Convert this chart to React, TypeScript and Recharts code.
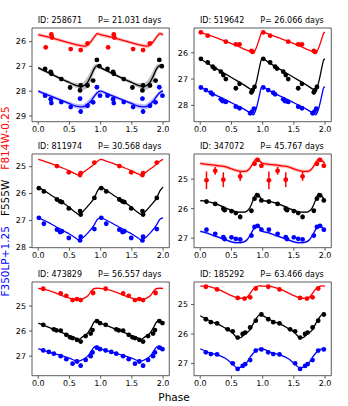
import {
  ComposedChart,
  Line,
  Area,
  Scatter,
  ErrorBar,
  XAxis,
  YAxis,
  ReferenceArea,
} from 'recharts'

const FONT = 'DejaVu Sans'
const RED = '#ff0000'
const BLACK = '#000000'
const BLUE = '#0000ff'

type Pt = [number, number, number] // phase, mag, error

const starIds = ['258671', '519642', '811974', '347072', '473829', '185292']
const periods = ['21.031', '26.066', '30.568', '45.767', '56.557', '63.466']
const yLims = [
  [25.45, 29.23],
  [25.06, 28.62],
  [24.53, 28.01],
  [24.15, 27.32],
  [24.04, 27.78],
  [24.24, 27.41],
]
const yTicks = [
  [26, 27, 28, 29],
  [26, 27, 28],
  [25, 26, 27, 28],
  [25, 26, 27],
  [25, 26, 27],
  [25, 26, 27],
]
const xTicks = [0, 0.5, 1, 1.5, 2]

// ---- 258671
const phase1 = [0, 0.1, 0.2, 0.3, 0.4, 0.5, 0.6, 0.7, 0.75, 0.8, 0.85, 0.9, 0.95]
const red1 = [25.72, 25.78, 25.84, 25.91, 25.98, 26.05, 26.12, 26.17, 26.18, 26.12, 25.98, 25.8, 25.68]
const black1 = [27.05, 27.18, 27.3, 27.42, 27.54, 27.65, 27.76, 27.8, 27.75, 27.6, 27.35, 27.08, 26.97]
const blue1 = [28.0, 28.1, 28.2, 28.3, 28.4, 28.5, 28.6, 28.63, 28.6, 28.5, 28.38, 28.2, 28.05]
const band1Red = [0.07, 0.07, 0.07, 0.07, 0.07, 0.07, 0.07, 0.08, 0.09, 0.1, 0.1, 0.09, 0.08]
const band1Black = [0.06, 0.06, 0.06, 0.06, 0.06, 0.07, 0.09, 0.14, 0.18, 0.22, 0.22, 0.15, 0.08]
const band1Blue = [0.07, 0.07, 0.07, 0.07, 0.07, 0.08, 0.09, 0.1, 0.12, 0.14, 0.14, 0.1, 0.08]
const red1Pts: Pt[] = [[0.12, 26.23, 0.08], [0.21, 25.71, 0.08], [0.22, 25.83, 0.08], [0.52, 26.3, 0.08], [0.68, 26.34, 0.08], [0.79, 26.07, 0.05]]
const black1Pts: Pt[] = [[0.11, 27.1, 0.05], [0.2, 27.22, 0.05], [0.21, 27.3, 0.06], [0.37, 27.51, 0.06], [0.51, 27.85, 0.08], [0.67, 27.97, 0.06], [0.68, 27.77, 0.08], [0.79, 27.77, 0.06], [0.88, 27.57, 0.06], [0.94, 26.74, 0.04], [0.98, 26.99, 0.05]]
const blue1Pts: Pt[] = [[0.11, 28.18, 0.05], [0.2, 28.32, 0.06], [0.21, 28.48, 0.06], [0.37, 28.44, 0.05], [0.52, 28.64, 0.06], [0.67, 28.3, 0.04], [0.68, 28.82, 0.1], [0.79, 28.59, 0.06], [0.88, 28.45, 0.06], [0.94, 27.84, 0.04], [0.99, 28.18, 0.05]]

// ---- 519642
const phase2 = [0, 0.1, 0.2, 0.3, 0.4, 0.5, 0.6, 0.7, 0.8, 0.85, 0.9, 0.95, 0.98]
const red2 = [25.22, 25.3, 25.38, 25.47, 25.56, 25.65, 25.75, 25.86, 25.96, 26.0, 25.8, 25.45, 25.25]
const black2 = [26.23, 26.38, 26.52, 26.66, 26.8, 26.94, 27.08, 27.22, 27.38, 27.45, 27.1, 26.55, 26.26]
const blue2 = [27.3, 27.43, 27.55, 27.67, 27.78, 27.9, 28.02, 28.14, 28.28, 28.36, 28.1, 27.6, 27.32]
const red2Pts: Pt[] = [[0.01, 25.23, 0.03], [0.12, 25.35, 0.03], [0.41, 25.58, 0.04], [0.57, 25.68, 0.04], [0.63, 25.68, 0.04], [0.82, 25.93, 0.04], [0.84, 25.97, 0.04]]
const black2Pts: Pt[] = [[0.01, 26.23, 0.03], [0.12, 26.37, 0.04], [0.2, 26.53, 0.05], [0.23, 26.6, 0.05], [0.33, 26.72, 0.05], [0.37, 26.85, 0.05], [0.41, 27.0, 0.05], [0.57, 27.35, 0.08], [0.63, 27.18, 0.05], [0.82, 27.5, 0.1], [0.84, 27.42, 0.08], [0.87, 27.3, 0.08]]
const blue2Pts: Pt[] = [[0.01, 27.32, 0.03], [0.09, 27.42, 0.03], [0.17, 27.52, 0.03], [0.2, 27.58, 0.04], [0.33, 27.77, 0.05], [0.36, 27.84, 0.05], [0.41, 27.87, 0.04], [0.57, 28.05, 0.04], [0.63, 28.11, 0.05], [0.8, 28.3, 0.05], [0.83, 28.24, 0.05], [0.86, 28.12, 0.06]]

// ---- 811974
const phase3 = [0, 0.1, 0.2, 0.3, 0.4, 0.5, 0.6, 0.65, 0.7, 0.8, 0.9, 0.95]
const red3 = [24.73, 24.8, 24.88, 24.97, 25.06, 25.16, 25.27, 25.32, 25.25, 25.08, 24.9, 24.8]
const black3 = [25.76, 25.9, 26.05, 26.2, 26.35, 26.52, 26.7, 26.78, 26.7, 26.45, 26.15, 25.9]
const blue3 = [26.9, 27.0, 27.12, 27.25, 27.38, 27.5, 27.65, 27.73, 27.67, 27.45, 27.15, 26.95]
const red3Pts: Pt[] = [[0.3, 24.98, 0.03], [0.49, 25.21, 0.03], [0.67, 25.31, 0.04], [0.68, 25.24, 0.03], [0.9, 24.85, 0.05]]
const black3Pts: Pt[] = [[0.01, 25.8, 0.03], [0.09, 25.92, 0.04], [0.3, 26.22, 0.04], [0.35, 26.29, 0.04], [0.38, 26.32, 0.04], [0.49, 26.55, 0.04], [0.67, 26.65, 0.05], [0.68, 26.78, 0.07], [0.9, 26.16, 0.05]]
const blue3Pts: Pt[] = [[0.01, 26.9, 0.03], [0.09, 27.12, 0.05], [0.3, 27.34, 0.05], [0.35, 27.43, 0.05], [0.38, 27.4, 0.05], [0.49, 27.65, 0.06], [0.67, 27.74, 0.06], [0.68, 27.6, 0.05], [0.9, 27.32, 0.05]]

// ---- 347072
const phase4 = [0, 0.1, 0.2, 0.3, 0.4, 0.5, 0.6, 0.7, 0.75, 0.8, 0.85, 0.9, 0.95]
const red4 = [24.47, 24.5, 24.52, 24.55, 24.58, 24.65, 24.72, 24.74, 24.72, 24.62, 24.44, 24.32, 24.38]
const black4 = [25.73, 25.75, 25.8, 25.88, 25.97, 26.05, 26.12, 26.12, 26.08, 25.95, 25.7, 25.48, 25.58]
const blue4 = [26.77, 26.82, 26.9, 26.97, 27.05, 27.12, 27.15, 27.12, 27.05, 26.9, 26.7, 26.57, 26.62]
const band4Red = [0.06, 0.06, 0.06, 0.06, 0.06, 0.06, 0.06, 0.06, 0.06, 0.06, 0.06, 0.06, 0.06]
const band4Black = [0.03, 0.03, 0.03, 0.03, 0.03, 0.03, 0.03, 0.03, 0.03, 0.03, 0.03, 0.03, 0.03]
const band4Blue = [0.04, 0.04, 0.04, 0.04, 0.04, 0.04, 0.04, 0.04, 0.04, 0.04, 0.04, 0.04, 0.04]
const red4Pts: Pt[] = [[0.1, 25.04, 0.3], [0.24, 24.72, 0.13], [0.37, 25.02, 0.25], [0.64, 24.91, 0.15], [0.87, 24.48, 0.06], [0.92, 24.35, 0.06], [0.98, 24.55, 0.06]]
const black4Pts: Pt[] = [[0.1, 25.76, 0.07], [0.24, 25.84, 0.05], [0.37, 26.0, 0.07], [0.39, 26.05, 0.05], [0.5, 26.08, 0.05], [0.57, 26.15, 0.05], [0.64, 26.28, 0.08], [0.82, 26.07, 0.05], [0.87, 25.66, 0.05], [0.92, 25.55, 0.05], [0.98, 25.72, 0.05]]
const blue4Pts: Pt[] = [[0.1, 26.71, 0.05], [0.24, 26.85, 0.03], [0.37, 26.96, 0.06], [0.39, 27.03, 0.05], [0.5, 26.97, 0.04], [0.57, 27.02, 0.04], [0.64, 27.04, 0.04], [0.82, 26.91, 0.08], [0.87, 26.62, 0.05], [0.92, 26.58, 0.05], [0.98, 26.71, 0.05]]

// ---- 473829
const phase5 = [0, 0.1, 0.2, 0.3, 0.4, 0.5, 0.6, 0.65, 0.7, 0.8, 0.85, 0.9, 0.95]
const red5 = [24.3, 24.33, 24.4, 24.5, 24.6, 24.68, 24.74, 24.76, 24.72, 24.58, 24.4, 24.3, 24.29]
const black5 = [25.68, 25.78, 25.88, 25.98, 26.08, 26.18, 26.28, 26.33, 26.25, 26.05, 25.85, 25.62, 25.58]
const blue5 = [26.7, 26.78, 26.86, 26.93, 27.0, 27.08, 27.18, 27.2, 27.15, 26.98, 26.8, 26.63, 26.6]
const red5Pts: Pt[] = [[0.08, 24.31, 0.04], [0.36, 24.5, 0.05], [0.45, 24.59, 0.05], [0.55, 24.76, 0.07], [0.62, 24.72, 0.07], [0.68, 24.76, 0.07], [0.88, 24.48, 0.04]]
const black5Pts: Pt[] = [[0.08, 25.75, 0.03], [0.25, 25.93, 0.04], [0.29, 25.97, 0.04], [0.36, 25.98, 0.05], [0.45, 26.15, 0.08], [0.51, 26.25, 0.05], [0.55, 26.28, 0.06], [0.62, 26.35, 0.07], [0.68, 26.42, 0.07], [0.76, 26.2, 0.05], [0.84, 26.1, 0.05], [0.87, 25.96, 0.05], [0.94, 25.6, 0.04], [0.99, 25.68, 0.04]]
const blue5Pts: Pt[] = [[0.08, 26.77, 0.04], [0.17, 26.83, 0.04], [0.25, 26.9, 0.04], [0.36, 27.0, 0.05], [0.45, 27.12, 0.06], [0.55, 27.3, 0.07], [0.62, 27.21, 0.09], [0.68, 27.38, 0.08], [0.76, 27.15, 0.06], [0.84, 27.0, 0.05], [0.87, 26.85, 0.05], [0.94, 26.66, 0.04], [0.99, 26.72, 0.04]]

// ---- 185292
const phase6 = [0, 0.1, 0.2, 0.3, 0.4, 0.5, 0.6, 0.65, 0.7, 0.75, 0.8, 0.85, 0.9, 0.95]
const red6 = [24.38, 24.38, 24.43, 24.5, 24.6, 24.7, 24.78, 24.79, 24.78, 24.75, 24.62, 24.48, 24.4, 24.37]
const black6 = [25.38, 25.5, 25.6, 25.68, 25.8, 25.93, 26.12, 26.12, 26.02, 25.95, 25.85, 25.65, 25.47, 25.35]
const blue6 = [26.5, 26.6, 26.66, 26.72, 26.82, 26.98, 27.15, 27.12, 27.05, 26.95, 26.78, 26.65, 26.55, 26.5]
const red6Pts: Pt[] = [[0.09, 24.4, 0.03], [0.27, 24.49, 0.03], [0.6, 24.78, 0.03], [0.71, 24.8, 0.03], [0.8, 24.76, 0.03], [0.89, 24.46, 0.03]]
const black6Pts: Pt[] = [[0.09, 25.5, 0.03], [0.17, 25.6, 0.03], [0.27, 25.64, 0.03], [0.44, 25.84, 0.03], [0.52, 25.91, 0.03], [0.6, 26.12, 0.04], [0.68, 26.0, 0.03], [0.72, 25.95, 0.03], [0.8, 25.78, 0.03], [0.89, 25.55, 0.03], [0.98, 25.34, 0.03]]
const blue6Pts: Pt[] = [[0.09, 26.62, 0.03], [0.17, 26.68, 0.03], [0.27, 26.69, 0.03], [0.52, 26.99, 0.03], [0.6, 27.18, 0.04], [0.68, 27.08, 0.03], [0.72, 27.02, 0.03], [0.8, 26.88, 0.03], [0.89, 26.56, 0.03], [0.98, 26.52, 0.03]]

type Bands = { red?: number[]; black?: number[]; blue?: number[] }

// two cycles of the template, closed at phase 2
function buildCurve(phase: number[], red: number[], black: number[], blue: number[], bands: Bands = {}) {
  const row = (x: number, i: number) => ({
    x,
    red: red[i],
    black: black[i],
    blue: blue[i],
    redBand: bands.red ? [red[i] - bands.red[i], red[i] + bands.red[i]] : undefined,
    blackBand: bands.black ? [black[i] - bands.black[i], black[i] + bands.black[i]] : undefined,
    blueBand: bands.blue ? [blue[i] - bands.blue[i], blue[i] + bands.blue[i]] : undefined,
  })
  const rows = []
  for (const k of [0, 1]) phase.forEach((p, i) => rows.push(row(p + k, i)))
  rows.push(row(2, 0))
  return rows
}

function buildPts(pts: Pt[]) {
  const out = []
  for (const k of [0, 1]) pts.forEach(([p, m, e]) => out.push({ x: p + k, y: m, e }))
  return out
}

const panels = [
  { curve: buildCurve(phase1, red1, black1, blue1, { red: band1Red, black: band1Black, blue: band1Blue }), pts: [red1Pts, black1Pts, blue1Pts] },
  { curve: buildCurve(phase2, red2, black2, blue2), pts: [red2Pts, black2Pts, blue2Pts] },
  { curve: buildCurve(phase3, red3, black3, blue3), pts: [red3Pts, black3Pts, blue3Pts] },
  { curve: buildCurve(phase4, red4, black4, blue4, { red: band4Red, black: band4Black, blue: band4Blue }), pts: [red4Pts, black4Pts, blue4Pts] },
  { curve: buildCurve(phase5, red5, black5, blue5), pts: [red5Pts, black5Pts, blue5Pts] },
  { curve: buildCurve(phase6, red6, black6, blue6), pts: [red6Pts, black6Pts, blue6Pts] },
]

const COLS = [31.5, 193.8]
const ROWS = [28.3, 154, 281.7]
const PW = 137.3
const PH = 93.7
const YW = 30
const PAD = 4
const XH = 16

const tickStyle = { fontSize: 8, fill: '#000', fontFamily: FONT }
const bandColors = ['redBand', 'blackBand', 'blueBand']
const lineKeys = ['red', 'black', 'blue']
const colors = [RED, BLACK, BLUE]
const bandFills = ['#ff6b6b', '#707070', '#6b6bff']

function Panel({ idx }: { idx: number }) {
  const p = panels[idx]
  const left = COLS[idx % 2]
  const top = ROWS[Math.floor(idx / 2)]
  const [y0, y1] = yLims[idx]
  return (
    <div style={{ position: 'absolute', left: left - YW, top: top - PAD }}>
      <ComposedChart
        width={PW + YW + PAD}
        height={PH + PAD + XH}
        data={p.curve}
        margin={{ top: PAD, right: PAD, left: 0, bottom: 0 }}
      >
        <XAxis
          type="number"
          dataKey="x"
          domain={[-0.1, 2.1]}
          ticks={xTicks}
          tickFormatter={(v: number) => v.toFixed(1)}
          allowDataOverflow
          axisLine={false}
          tickSize={3}
          tickMargin={2}
          tickLine={{ stroke: '#333', strokeWidth: 0.8 }}
          tick={tickStyle}
          height={XH}
          interval={0}
        />
        <YAxis
          type="number"
          reversed
          domain={[y0, y1]}
          ticks={yTicks[idx]}
          allowDataOverflow
          axisLine={false}
          tickSize={3}
          tickMargin={3}
          tickLine={{ stroke: '#333', strokeWidth: 0.8 }}
          tick={tickStyle}
          width={YW}
          interval={0}
        />
        {bandColors.map((k, i) =>
          p.curve[0][k as 'redBand'] ? (
            <Area
              key={k}
              type="monotone"
              dataKey={k}
              stroke="none"
              fill={bandFills[i]}
              fillOpacity={0.45}
              isAnimationActive={false}
              activeDot={false}
            />
          ) : null,
        )}
        {lineKeys.map((k, i) => (
          <Line
            key={k}
            type="monotone"
            dataKey={k}
            stroke={colors[i]}
            strokeWidth={1.3}
            dot={false}
            activeDot={false}
            isAnimationActive={false}
          />
        ))}
        {p.pts.map((pts, i) => (
          <Scatter
            key={'s' + i}
            data={buildPts(pts)}
            dataKey="y"
            fill={colors[i]}
            isAnimationActive={false}
            shape={(s: any) => <circle cx={s.cx} cy={s.cy} r={2.4} fill={colors[i]} />}
          >
            <ErrorBar dataKey="e" direction="y" width={0} stroke={colors[i]} strokeWidth={1.5} />
          </Scatter>
        ))}
        <ReferenceArea
          x1={-0.1}
          x2={2.1}
          y1={y0}
          y2={y1}
          fill="none"
          stroke="#333"
          strokeWidth={0.8}
          ifOverflow="visible"
        />
      </ComposedChart>
    </div>
  )
}

export default function App() {
  return (
    <div style={{ position: 'absolute', left: 0, top: 0, width: 348, height: 406, background: '#fff' }}>
      {panels.map((_, i) => (
        <Panel key={i} idx={i} />
      ))}
      <svg
        width={348}
        height={406}
        style={{ position: 'absolute', left: 0, top: 0, pointerEvents: 'none' }}
        fontFamily={FONT}
      >
        {starIds.map((id, i) => {
          const left = COLS[i % 2]
          const top = ROWS[Math.floor(i / 2)]
          return (
            <g key={id} fontSize={8} fill="#000">
              <text x={left + 6.2} y={top - 5}>{`ID: ${id}`}</text>
              <text x={left + PW - 7.3} y={top - 5} textAnchor="end">{`P= ${periods[i]} days`}</text>
            </g>
          )
        })}
        <text x={174} y={401} textAnchor="middle" fontSize={10.5} fill="#000">
          Phase
        </text>
        <text
          transform="translate(9.3,201.5) rotate(-90)"
          textAnchor="middle"
          fontSize={10.5}
          style={{ whiteSpace: 'pre' }}
        >
          <tspan fill={BLUE}>F350LP+1.25</tspan>
          <tspan fill={BLACK}>{'   F555W   '}</tspan>
          <tspan fill={RED}>F814W-0.25</tspan>
        </text>
      </svg>
    </div>
  )
}
